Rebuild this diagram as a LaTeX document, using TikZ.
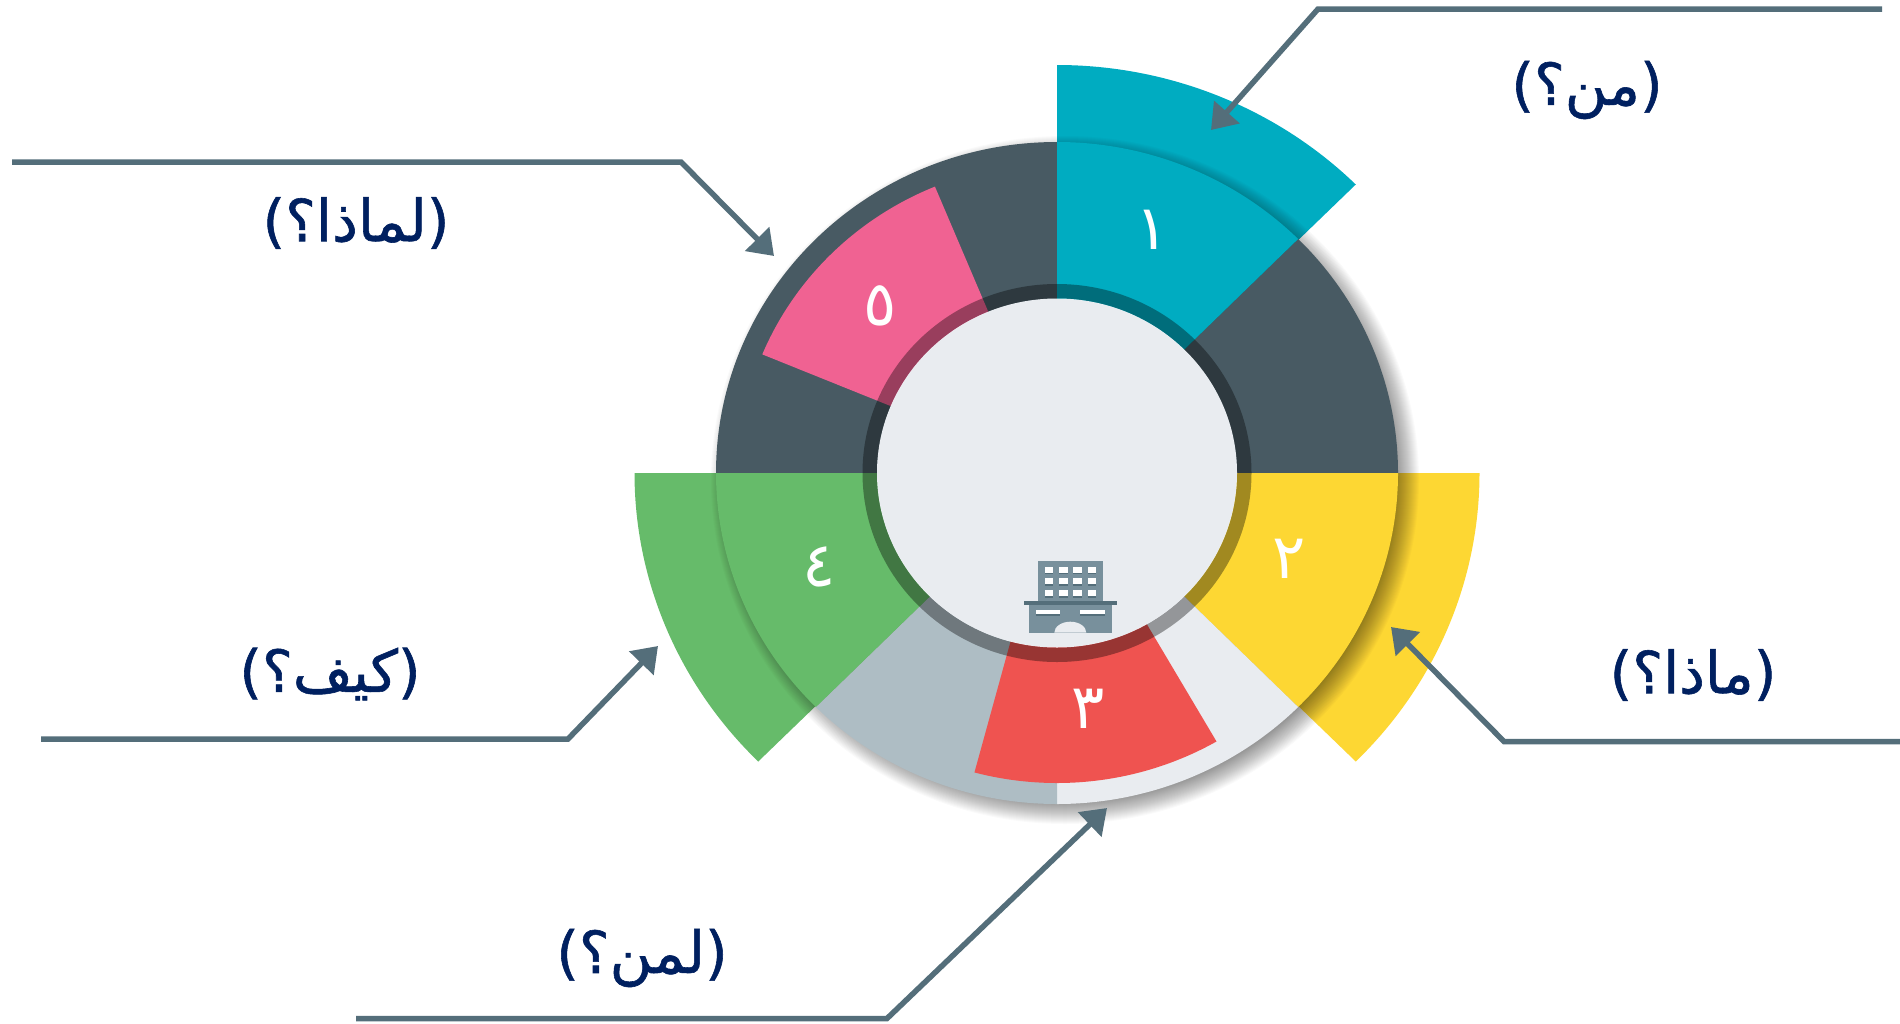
\documentclass[tikz,border=0pt]{standalone}
\usepackage{fontspec}
\usetikzlibrary{arrows.meta}
\TeXXeTstate=1
\newfontfamily\arabicfont[Script=Arabic]{DejaVu Sans}
\newfontfamily\questionfont[Script=Arabic,FakeBold=1]{DejaVu Sans}
\definecolor{cteal}{HTML}{00ACC1}
\definecolor{cyellow}{HTML}{FDD733}
\definecolor{cgreen}{HTML}{66BB6A}
\definecolor{cpink}{HTML}{F06292}
\definecolor{cred}{HTML}{EF5350}
\definecolor{cdark}{HTML}{485A63}
\definecolor{cgrey}{HTML}{AEBDC4}
\definecolor{clight}{HTML}{E9ECF0}
\definecolor{cline}{HTML}{546E7A}
\definecolor{cicon}{HTML}{78909C}
\definecolor{cnavy}{HTML}{002060}
\newcommand{\wedgeE}[5]{\fill[#1] (0,0) -- (#2:#4pt and #5pt) arc[start angle=#2,end angle=#3,x radius=#4pt,y radius=#5pt] -- cycle;}
\tikzset{
  leader/.style={draw=cline,line width=5.5pt,line join=miter,-{Triangle[length=24pt,width=33pt]}},
  question/.style={text=cnavy,font=\questionfont\fontsize{58}{66}\selectfont,inner sep=0pt},
  digit/.style={text=white,font=\arabicfont\fontsize{62}{70}\selectfont,inner sep=0pt},
}
\begin{document}
\begin{tikzpicture}[x=1pt,y=1pt]
\useasboundingbox (0,0) rectangle (1900,-1023);
\fill[white] (0,0) rectangle (1900,-1023);
\begin{scope}[shift={(1057,-473)}]
  % large outer sectors
  \wedgeE{cteal}{45}{90}{422.5}{408}
  \wedgeE{cyellow}{315}{360}{422.5}{408}
  \wedgeE{cgreen}{180}{225}{422.5}{408}
  % soft shadow of the ring
  \foreach \i in {1,...,28}{
    \fill[black,fill opacity=.018] (8pt,-7pt) ellipse [x radius={341pt+(14-\i)*1pt},y radius={331pt+(14-\i)*1pt}];
  }
  % ring
  \wedgeE{cdark}{90}{180}{341}{331}
  \wedgeE{cdark}{0}{45}{341}{331}
  \wedgeE{cteal}{45}{90}{341}{331}
  \wedgeE{cyellow}{315}{360}{341}{331}
  \wedgeE{clight}{270}{315}{341}{331}
  \wedgeE{cgrey}{225}{270}{341}{331}
  \wedgeE{cgreen}{180}{225}{341}{331}
  % shorter sectors
  \wedgeE{cpink}{112.5}{157.5}{319}{310}
  \wedgeE{cred}{255}{300}{319}{310}
  % translucent band and centre
  \fill[black,fill opacity=.36,even odd rule] (0,0) ellipse [x radius=194.5pt,y radius=189pt] (0,0) ellipse [x radius=180pt,y radius=174.5pt];
  \fill[clight] (0,0) ellipse [x radius=180pt,y radius=174.5pt];
\end{scope}
% building icon
\fill[cicon] (1037.7,-561) rectangle (1102.7,-600.7);
\fill[cicon] (1029.3,-604.7) rectangle (1111.7,-632.7);
\fill[cline] (1024,-600.7) rectangle (1116.7,-604.7);
\foreach \wx in {1044.7,1059,1073.3,1087.7}{
  \foreach \wy in {566.7,578.3,590}{
    \fill[cline] (\wx,-\wy-1.5) rectangle ++(8.7,-6);
    \fill[white] (\wx,-\wy) rectangle ++(8.7,-6);
  }
}
\fill[cline] (1036,-611.5) rectangle (1060.3,-615.5);
\fill[cline] (1080.3,-611.5) rectangle (1104.7,-615.5);
\fill[white] (1036,-610.3) rectangle (1060.3,-614);
\fill[white] (1080.3,-610.3) rectangle (1104.7,-614);
\fill[clight] (1054.3,-632.7) arc[start angle=180,end angle=0,x radius=16pt,y radius=11pt] -- cycle;
% digits
\node[digit] (d1) at (1152,-230) {١};
\node[digit] (d2) at (1289,-559) {٢};
\node[digit] (d3) at (1088,-709) {٣};
\node[digit] (d4) at (819,-567) {٤};
\node[digit] (d5) at (880,-306) {٥};
% labels
\node[question] (q1) at (1587,-90) {\beginR(من؟)\endR};
\node[question] (q2) at (1693,-675) {\beginR(ماذا؟)\endR};
\node[question] (q3) at (642,-958) {\beginR(لمن؟)\endR};
\node[question] (q4) at (330,-674) {\beginR(كيف؟)\endR};
\node[question] (q5) at (356,-223) {\beginR(لماذا؟)\endR};
% leaders
\coordinate (a1) at (1882,-9); \coordinate (b1) at (1318,-9); \coordinate (c1) at (1211,-130);
\coordinate (a2) at (1900,-741.5); \coordinate (b2) at (1504,-741.5); \coordinate (c2) at (1391,-627);
\coordinate (a3) at (356,-1018.5); \coordinate (b3) at (887,-1018.5); \coordinate (c3) at (1107,-808);
\coordinate (a4) at (41,-739); \coordinate (b4) at (568,-739); \coordinate (c4) at (658,-646);
\coordinate (a5) at (12,-162); \coordinate (b5) at (681,-162); \coordinate (c5) at (774,-256);
\draw[leader] (a1) -- (b1) -- (c1);
\draw[leader] (a2) -- (b2) -- (c2);
\draw[leader] (a3) -- (b3) -- (c3);
\draw[leader] (a4) -- (b4) -- (c4);
\draw[leader] (a5) -- (b5) -- (c5);
\end{tikzpicture}
\end{document}
